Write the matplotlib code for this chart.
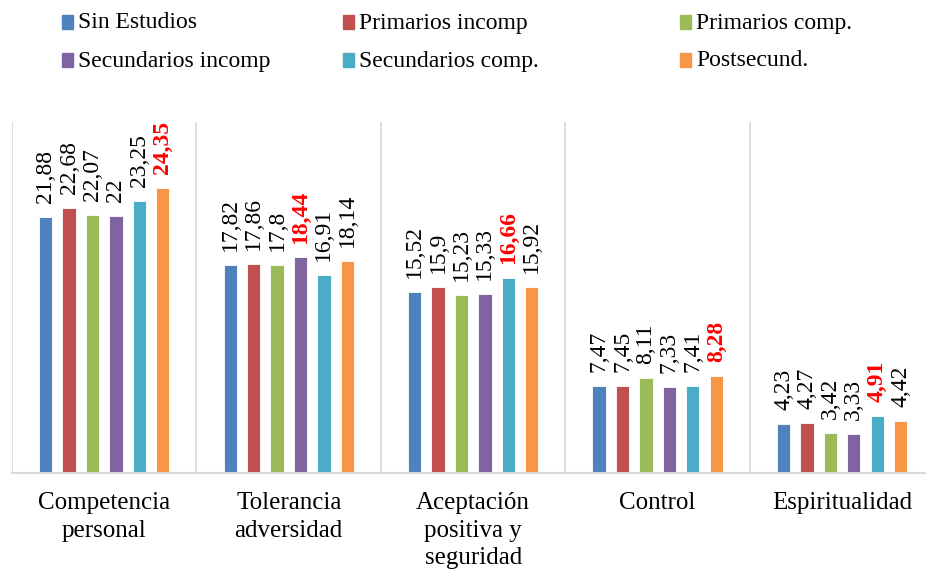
import matplotlib
matplotlib.use("Agg")
from matplotlib import pyplot as plt
from matplotlib.patches import Rectangle
import numpy as np

# Datos
categorias = ["Competencia\npersonal", "Tolerancia\nadversidad",
              "Aceptación\npositiva y\nseguridad", "Control", "Espiritualidad"]
series = ["Sin Estudios", "Primarios incomp", "Primarios comp.",
          "Secundarios incomp", "Secundarios comp.", "Postsecund."]
sin_estudios = [21.88, 17.82, 15.52, 7.47, 4.23]
primarios_incomp = [22.68, 17.86, 15.90, 7.45, 4.27]
primarios_comp = [22.07, 17.80, 15.23, 8.11, 3.42]
secundarios_incomp = [22.00, 18.44, 15.33, 7.33, 3.33]
secundarios_comp = [23.25, 16.91, 16.66, 7.41, 4.91]
postsecund = [24.35, 18.14, 15.92, 8.28, 4.42]

valores = [sin_estudios, primarios_incomp, primarios_comp,
           secundarios_incomp, secundarios_comp, postsecund]
colores = ["#4F81BD", "#C0504D", "#9BBB59", "#8064A2", "#4BACC6", "#F79646"]

plt.rcParams['font.family'] = ['Liberation Serif', 'DejaVu Serif']

fig = plt.figure(figsize=(9.26, 5.74), dpi=100)
ax = fig.add_axes([0.013, 0.176, 0.996, 0.611])

x = np.arange(len(categorias))
paso = 0.127
ancho = 0.072

# maximo de cada categoria en rojo
maximos = np.max(np.array(valores), axis=0)

for i, serie in enumerate(valores):
    pos = x + (i - 2.5) * paso
    ax.bar(pos, serie, width=ancho, color=colores[i], edgecolor="white", linewidth=0.6, zorder=2)
    for j, v in enumerate(serie):
        texto = "{:g}".format(v).replace(".", ",")
        es_max = v == maximos[j]
        ax.annotate(texto, (pos[j], v), xytext=(0, 10), textcoords="offset points",
                    rotation=90, ha="center", va="bottom", fontsize=17,
                    color="red" if es_max else "black",
                    fontweight="bold" if es_max else "normal")

# separadores entre categorias
for b in np.arange(len(categorias) + 1) - 0.5:
    ax.axvline(b, color="#D9D9D9", linewidth=1.2, zorder=1)

ax.set_xlim(-0.5, len(categorias) - 0.5)
ax.set_ylim(0, 30)
ax.set_yticks([])
ax.set_xticks(x)
ax.set_xticklabels(categorias, fontsize=18, linespacing=1.3)
ax.tick_params(axis="x", length=0, pad=14)
for s in ["top", "right", "left"]:
    ax.spines[s].set_visible(False)
ax.spines["bottom"].set_color("#D9D9D9")
ax.spines["bottom"].set_linewidth(1.5)

# leyenda manual en 3 columnas
col_x = [62, 343, 680]
fila_y = [22, 60]
W, H = 926.0, 574.0
for i, nombre in enumerate(series):
    cx = col_x[i % 3]
    cy = fila_y[i // 3]
    fig.add_artist(Rectangle((cx / W, 1 - (cy + 7) / H), 11 / W, 14 / H,
                             transform=fig.transFigure, color=colores[i]))
    fig.text((cx + 16) / W, 1 - (cy + 1) / H, nombre, fontsize=17, va="center", ha="left")

fig.savefig("out.png", dpi=100)
